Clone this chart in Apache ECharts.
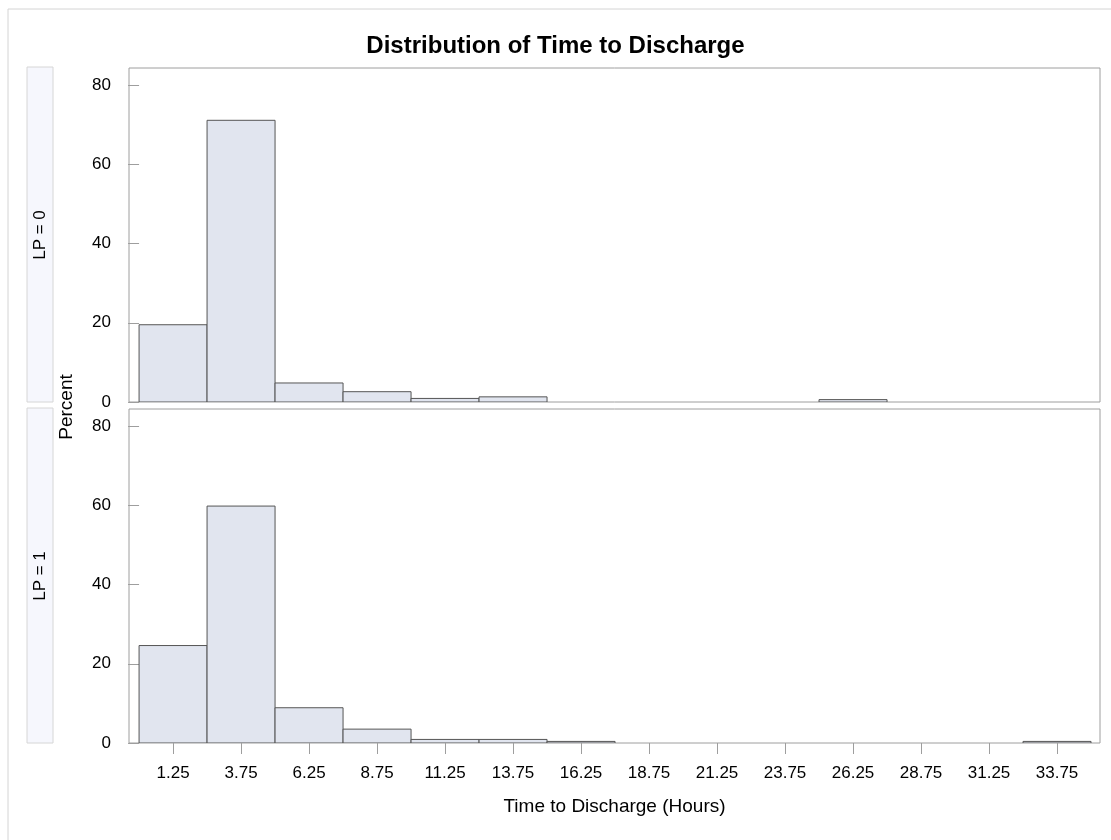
<!DOCTYPE html>
<html>
<head>
<meta charset="utf-8">
<title>Distribution of Time to Discharge</title>
<script src="https://cdn.jsdelivr.net/npm/echarts@6/dist/echarts.min.js"></script>
<style>
  html, body { margin: 0; padding: 0; background: #ffffff; }
  #chart { width: 1111px; height: 840px; }
</style>
</head>
<body>
<div id="chart"></div>
<script>
// Histogram bins (hours): midpoints and width
const binMid = [1.25, 3.75, 6.25, 8.75, 11.25, 13.75, 16.25, 18.75, 21.25, 23.75, 26.25, 28.75, 31.25, 33.75];
const binWidth = 2.5;
// Percent of patients per bin, by LP group
const pctLP0 = [19.5, 71.1, 4.8, 2.6, 0.9, 1.3, 0, 0, 0, 0, 0.6, 0, 0, 0];
const pctLP1 = [24.6, 59.8, 8.9, 3.5, 0.9, 0.9, 0.4, 0, 0, 0, 0, 0, 0, 0.4];
const yTicks = [0, 20, 40, 60, 80];
const panelLabels = ['LP = 0', 'LP = 1'];

const FONT = '"Liberation Sans", Arial, sans-serif';
const FRAME = '#9e9e9e';
const TEXT = '#000000';

function binData(values) {
  return binMid.map((m, i) => [m - binWidth / 2, m + binWidth / 2, values[i]])
               .filter(d => d[2] > 0);
}

function renderBin(params, api) {
  const lo = api.coord([api.value(0), 0]);
  const hi = api.coord([api.value(1), api.value(2)]);
  return {
    type: 'rect',
    shape: { x: lo[0], y: hi[1], width: hi[0] - lo[0], height: lo[1] - hi[1] },
    style: { fill: '#e1e5ef', stroke: '#555555', lineWidth: 1 }
  };
}

const xBase = {
  type: 'value', min: -0.37, max: 35.33,
  splitLine: { show: false },
  axisLine: { show: false }
};
const yBase = {
  type: 'value', min: 0, max: 84.3,
  splitLine: { show: false },
  axisLine: { show: false },
  axisTick: { show: true, length: 11, lineStyle: { color: FRAME }, customValues: yTicks },
  axisLabel: { customValues: yTicks, color: TEXT, fontFamily: FONT, fontSize: 17, margin: 18 }
};

const chart = echarts.init(document.getElementById('chart'), null, { renderer: 'canvas' });
chart.setOption({
  backgroundColor: '#ffffff',
  animation: false,
  title: {
    text: 'Distribution of Time to Discharge',
    left: 'center', top: 29,
    textStyle: { fontFamily: FONT, fontSize: 24, fontWeight: 'bold', color: '#000' }
  },
  grid: [
    { left: 129, top: 68, width: 971, height: 334, show: true, borderColor: FRAME, borderWidth: 1, backgroundColor: 'transparent' },
    { left: 129, top: 409, width: 971, height: 334, show: true, borderColor: FRAME, borderWidth: 1, backgroundColor: 'transparent' }
  ],
  xAxis: [
    Object.assign({}, xBase, { gridIndex: 0, axisTick: { show: false }, axisLabel: { show: false } }),
    Object.assign({}, xBase, {
      gridIndex: 1,
      name: 'Time to Discharge (Hours)',
      nameLocation: 'middle', nameGap: 54,
      nameTextStyle: { fontFamily: FONT, fontSize: 19, color: TEXT },
      axisTick: { show: true, length: 11, lineStyle: { color: FRAME }, customValues: binMid },
      axisLabel: { customValues: binMid, color: TEXT, fontFamily: FONT, fontSize: 17, margin: 22,
                   formatter: v => v.toFixed(2) }
    })
  ],
  yAxis: [
    Object.assign({}, yBase, { gridIndex: 0 }),
    Object.assign({}, yBase, { gridIndex: 1 })
  ],
  series: [
    { type: 'custom', xAxisIndex: 0, yAxisIndex: 0, renderItem: renderBin, data: binData(pctLP0), clip: true },
    { type: 'custom', xAxisIndex: 1, yAxisIndex: 1, renderItem: renderBin, data: binData(pctLP1), clip: true }
  ],
  graphic: [
    // outer frame
    { type: 'rect', shape: { x: 8, y: 9, width: 1110, height: 840 }, style: { fill: 'none', stroke: '#d4d4d4', lineWidth: 1 }, z: -1 },
    // panel strips
    { type: 'rect', shape: { x: 27, y: 67, width: 26, height: 335 }, style: { fill: '#f6f7fd', stroke: '#d6d6d6', lineWidth: 1 } },
    { type: 'rect', shape: { x: 27, y: 408, width: 26, height: 335 }, style: { fill: '#f6f7fd', stroke: '#d6d6d6', lineWidth: 1 } },
    { type: 'text', x: 40, y: 235, rotation: Math.PI / 2,
      style: { text: panelLabels[0], fontFamily: FONT, fontSize: 17, fill: TEXT, align: 'center', verticalAlign: 'middle' } },
    { type: 'text', x: 40, y: 576, rotation: Math.PI / 2,
      style: { text: panelLabels[1], fontFamily: FONT, fontSize: 17, fill: TEXT, align: 'center', verticalAlign: 'middle' } },
    // shared y-axis title
    { type: 'text', x: 67, y: 407, rotation: Math.PI / 2,
      style: { text: 'Percent', fontFamily: FONT, fontSize: 19, fill: TEXT, align: 'center', verticalAlign: 'middle' } }
  ]
});
</script>
</body>
</html>
